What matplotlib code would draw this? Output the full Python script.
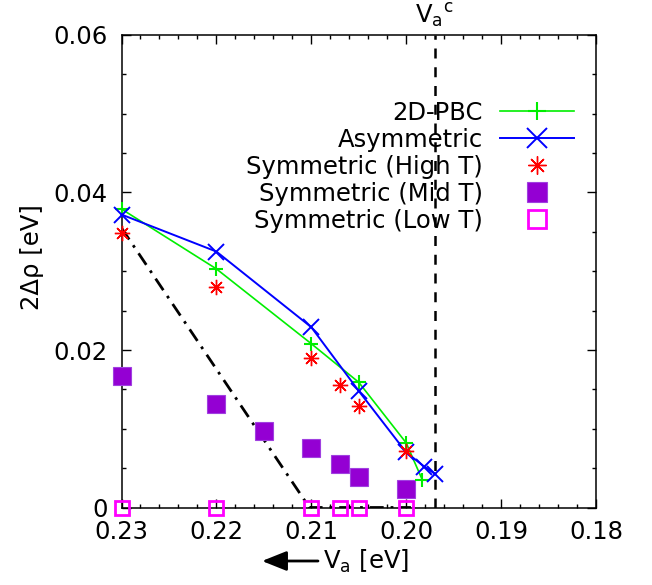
import numpy as np
import matplotlib
matplotlib.use("Agg")
import matplotlib.pyplot as plt
from matplotlib.ticker import MultipleLocator

# data
pbc_x = [0.23, 0.22, 0.21, 0.205, 0.20, 0.1983]
pbc_y = [0.0379, 0.0303, 0.0208, 0.0159, 0.0082, 0.0035]

asym_x = [0.23, 0.22, 0.21, 0.205, 0.20, 0.1981, 0.197]
asym_y = [0.0372, 0.0325, 0.0229, 0.0148, 0.0070, 0.0052, 0.0043]

high_x = [0.23, 0.22, 0.21, 0.207, 0.205, 0.20]
high_y = [0.0348, 0.0280, 0.0190, 0.0156, 0.0129, 0.0072]

mid_x = [0.23, 0.22, 0.215, 0.21, 0.207, 0.205, 0.20]
mid_y = [0.0167, 0.0131, 0.0097, 0.0075, 0.0055, 0.0039, 0.0024]

low_x = [0.23, 0.22, 0.21, 0.207, 0.205, 0.20]
low_y = [0.0, 0.0, 0.0, 0.0, 0.0, 0.0]

fit_x = [0.23, 0.2102, 0.1995]
fit_y = [0.0355, 0.0, 0.0]

va_c = 0.197

xticks = [0.23, 0.22, 0.21, 0.20, 0.19, 0.18]
xtick_labels = ["0.23", "0.22", "0.21", "0.20", "0.19", "0.18"]
yticks = [0, 0.02, 0.04, 0.06]
ytick_labels = ["0", "0.02", "0.04", "0.06"]

fs = 17.5
plt.rcParams['font.family'] = ['DejaVu Sans']
plt.rcParams['mathtext.fontset'] = 'dejavusans'

fig = plt.figure(figsize=(6.52, 5.85), dpi=100)
ax = fig.add_axes([121.5 / 652, 1 - 507.5 / 585, (596 - 121.5) / 652, (507.5 - 35) / 585])

ax.plot(fit_x, fit_y, color='black', lw=2, dashes=(5, 2.5, 1, 2.5), zorder=2)
ax.axvline(va_c, color='black', lw=1.8, dashes=(4, 3.5), zorder=2)

ax.plot(pbc_x, pbc_y, color='#00ee00', lw=1.2, marker='+', ms=10, mew=1.5,
        label='2D-PBC', clip_on=False, zorder=4)
ax.plot(asym_x, asym_y, color='#0000ff', lw=1.4, marker='x', ms=11, mew=1.4,
        label='Asymmetric', clip_on=False, zorder=5)
ax.plot(high_x, high_y, ls='none', color='#ff0000', marker=(8, 2, 0), ms=11, mew=1.0,
        label='Symmetric (High T)', clip_on=False, zorder=6)
ax.plot(mid_x, mid_y, ls='none', color='#9400d3', marker='s', ms=12.5, mew=0.8,
        mec='#a040e0', label='Symmetric (Mid T)', clip_on=False, zorder=3)
ax.plot(low_x, low_y, ls='none', marker='s', ms=10, mew=2, mfc='none', mec='#ff00ff',
        label='Symmetric (Low T)', clip_on=False, zorder=7)

ax.set_xlim(0.23, 0.18)
ax.set_ylim(0, 0.06)
ax.set_xticks(xticks)
ax.set_xticklabels(xtick_labels)
ax.set_yticks(yticks)
ax.set_yticklabels(ytick_labels)
ax.xaxis.set_minor_locator(MultipleLocator(0.002))
ax.yaxis.set_minor_locator(MultipleLocator(0.005))
ax.tick_params(which='both', direction='in', top=True, right=True, labelsize=fs, width=1)
ax.tick_params(which='major', length=6.5)
ax.tick_params(which='minor', length=3)
ax.tick_params(axis='x', pad=9)
ax.tick_params(axis='y', pad=10)
for s in ax.spines.values():
    s.set_linewidth(1.1)

ax.set_ylabel('2Δρ [eV]', fontsize=fs)
ax.yaxis.set_label_coords((44 - 121.5) / 474.5, (507.5 - 257) / 472.5)

fig.text(323 / 652, 1 - 561 / 585, r'$\mathrm{V_a}$ [eV]', fontsize=fs, ha='left', va='center')
fig.add_artist(matplotlib.patches.FancyArrowPatch(
    (318 / 652, 1 - 561 / 585), (262 / 652, 1 - 561 / 585), transform=fig.transFigure,
    arrowstyle='-|>,head_length=0.75,head_width=0.3', color='black', lw=2.0,
    shrinkA=0, shrinkB=0, mutation_scale=20))

ax.text(va_c, 1.01, r'$\mathrm{V_a{}^c}$', transform=ax.get_xaxis_transform(),
        fontsize=fs, ha='center', va='bottom')

leg = ax.legend(loc='upper right', bbox_to_anchor=((574 - 121.5) / 474.5, (507.5 - 101) / 472.5),
                frameon=False, markerfirst=False, fontsize=fs, borderpad=0, borderaxespad=0,
                handlelength=3.05, handletextpad=0.7, labelspacing=0.12, numpoints=1)
# gnuplot draws the key symbols a little larger than the plotted points
for h, ms in zip(leg.legend_handles, [13, 15, 13, 15, 13]):
    h.set_markersize(ms)

fig.savefig('out.png', dpi=100)
